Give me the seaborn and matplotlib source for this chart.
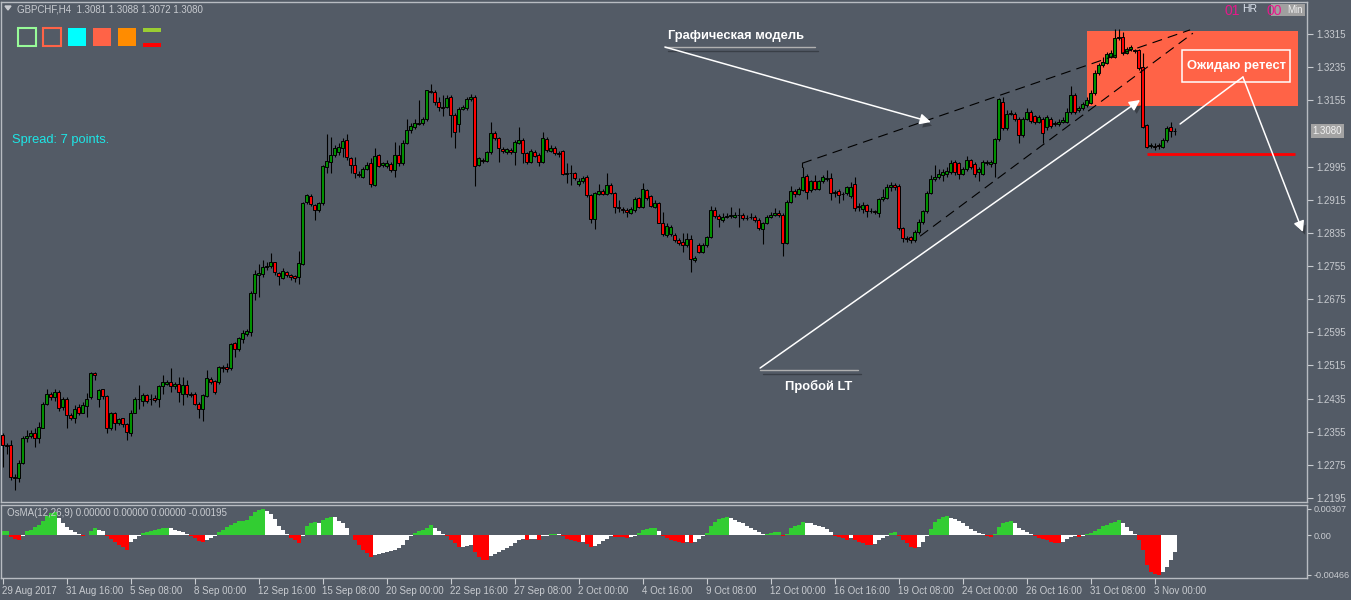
import numpy as np
import pandas as pd
import seaborn as sns
import matplotlib
matplotlib.use("Agg")
import matplotlib.pyplot as plt
from matplotlib.patches import Rectangle, FancyArrowPatch, Polygon
import matplotlib.patheffects as pe

BG = "#535b66"
FG = "#c8cbd0"
FRAME = "#b8bcc2"
BULL = "#009000"
BEAR = "#ff0000"

# GBPCHF H4 candles, prices in pips (1.2345 -> 12345)
opens = [
    12348, 12323, 12323, 12246, 12244, 12280, 12341, 12344, 12352, 12339,
    12364, 12422, 12447, 12438, 12450, 12415, 12435, 12395, 12387, 12415,
    12401, 12418, 12438, 12496, 12433, 12457, 12441, 12363, 12399, 12376,
    12387, 12373, 12353, 12401, 12433, 12430, 12443, 12435, 12437, 12433,
    12465, 12471, 12474, 12465, 12471, 12447, 12467, 12447, 12447, 12423,
    12411, 12442, 12482, 12477, 12476, 12510, 12510, 12508, 12568, 12554,
    12578, 12591, 12596, 12690, 12733, 12735, 12752, 12755, 12764, 12739,
    12727, 12740, 12733, 12731, 12729, 12761, 12909, 12924, 12902, 12890,
    12906, 12995, 13007, 13023, 13029, 13041, 13059, 13015, 12999, 12977,
    12969, 12988, 13003, 12950, 13023, 12999, 12996, 13001, 12987, 13022,
    13004, 13053, 13083, 13091, 13098, 13099, 13109, 13178, 13176, 13152,
    13138, 13140, 13164, 13120, 13097, 13135, 13136, 13157, 13164, 13000,
    13011, 13009, 13029, 13077, 13063, 13037, 13031, 13035, 13029, 13053,
    13059, 13027, 13007, 13031, 13023, 13007, 13062, 13033, 13041, 13027,
    13033, 12977, 12979, 12979, 12953, 12959, 12971, 12926, 12868, 12930,
    12936, 12930, 12951, 12932, 12898, 12892, 12889, 12884, 12890, 12918,
    12898, 12938, 12924, 12898, 12908, 12860, 12830, 12832, 12830, 12818,
    12814, 12805, 12819, 12769, 12806, 12790, 12805, 12824, 12890, 12876,
    12866, 12874, 12876, 12874, 12877, 12878, 12872, 12873, 12874, 12866,
    12844, 12860, 12874, 12878, 12884, 12878, 12811, 12910, 12937, 12929,
    12938, 12972, 12938, 12959, 12942, 12959, 12964, 12967, 12932, 12936,
    12929, 12932, 12924, 12953, 12899, 12893, 12902, 12888, 12887, 12882,
    12916, 12920, 12945, 12951, 12949, 12847, 12822, 12824, 12818, 12837,
    12862, 12887, 12932, 12966, 12970, 12974, 12978, 12982, 13007, 13003,
    12978, 12988, 13010, 13001, 12982, 12978, 13003, 13001, 13003, 13061,
    13152, 13087, 13123, 13123, 13111, 13071, 13111, 13127, 13117, 13103,
    13111, 13091, 13111, 13099, 13098, 13103, 13103, 13127, 13168, 13131,
    13136, 13144, 13149, 13172, 13220, 13240, 13246, 13260, 13259, 13305,
    13309, 13270, 13278, 13276, 13276, 13236, 13095, 13045, 13045, 13046,
    13043, 13059, 13091, 13081,
]
highs = [
    12352, 12327, 12336, 12254, 12286, 12344, 12359, 12360, 12363, 12379,
    12427, 12457, 12451, 12457, 12455, 12439, 12439, 12399, 12419, 12423,
    12427, 12449, 12500, 12500, 12459, 12459, 12443, 12403, 12403, 12389,
    12389, 12375, 12407, 12439, 12467, 12449, 12447, 12447, 12443, 12467,
    12492, 12480, 12508, 12475, 12488, 12488, 12480, 12451, 12451, 12427,
    12447, 12504, 12488, 12480, 12513, 12516, 12520, 12568, 12572, 12584,
    12600, 12602, 12695, 12745, 12761, 12769, 12765, 12787, 12765, 12741,
    12749, 12743, 12736, 12733, 12792, 12910, 12930, 12928, 12905, 12910,
    12999, 13074, 13067, 13047, 13051, 13063, 13074, 13019, 13017, 12985,
    12995, 13007, 13015, 13039, 13025, 13007, 13011, 13007, 13055, 13047,
    13059, 13109, 13101, 13109, 13156, 13115, 13181, 13194, 13180, 13164,
    13168, 13168, 13168, 13124, 13140, 13144, 13162, 13170, 13168, 13019,
    13015, 13033, 13103, 13082, 13066, 13043, 13041, 13039, 13059, 13091,
    13063, 13031, 13037, 13035, 13027, 13079, 13066, 13047, 13045, 13033,
    13035, 13003, 12999, 12983, 12967, 12972, 12975, 12930, 12934, 12953,
    12940, 12979, 12955, 12934, 12914, 12898, 12894, 12898, 12921, 12922,
    12955, 12942, 12926, 12914, 12910, 12886, 12858, 12854, 12834, 12822,
    12834, 12834, 12830, 12778, 12810, 12810, 12827, 12901, 12898, 12880,
    12882, 12884, 12898, 12886, 12894, 12884, 12878, 12884, 12878, 12870,
    12862, 12878, 12886, 12894, 12890, 12882, 12914, 12948, 12942, 12946,
    12993, 12977, 12963, 12975, 12963, 12975, 12987, 12979, 12938, 12940,
    12934, 12948, 12957, 12971, 12907, 12910, 12905, 12895, 12891, 12920,
    12941, 12953, 12957, 12955, 12953, 12849, 12827, 12828, 12841, 12868,
    12891, 12936, 12974, 12999, 12990, 12988, 12995, 13011, 13011, 13007,
    12995, 13020, 13013, 13005, 12995, 13011, 13010, 13011, 13065, 13161,
    13164, 13131, 13131, 13127, 13115, 13115, 13136, 13131, 13120, 13120,
    13115, 13120, 13115, 13106, 13109, 13115, 13136, 13189, 13172, 13141,
    13152, 13162, 13180, 13227, 13244, 13260, 13272, 13276, 13326, 13326,
    13321, 13284, 13288, 13280, 13280, 13268, 13098, 13051, 13051, 13053,
    13063, 13093, 13103, 13088,
]
lows = [
    12270, 12302, 12238, 12214, 12234, 12278, 12331, 12339, 12319, 12327,
    12363, 12419, 12431, 12430, 12405, 12407, 12363, 12383, 12375, 12395,
    12399, 12391, 12433, 12480, 12415, 12435, 12352, 12359, 12360, 12371,
    12367, 12336, 12344, 12399, 12411, 12417, 12425, 12419, 12427, 12415,
    12447, 12467, 12451, 12459, 12427, 12419, 12439, 12439, 12419, 12387,
    12381, 12439, 12471, 12447, 12471, 12500, 12500, 12504, 12536, 12550,
    12568, 12586, 12586, 12673, 12681, 12729, 12745, 12749, 12733, 12709,
    12723, 12729, 12721, 12717, 12711, 12757, 12905, 12900, 12866, 12886,
    12902, 12979, 12979, 13019, 13023, 13017, 13011, 12979, 12967, 12971,
    12967, 12987, 12946, 12948, 12993, 12993, 12991, 12983, 12969, 12996,
    12999, 13049, 13077, 13085, 13095, 13095, 13106, 13172, 13144, 13128,
    13117, 13136, 13066, 13039, 13079, 13132, 13132, 13154, 12948, 12996,
    13004, 13007, 13025, 13059, 13007, 13027, 13025, 13025, 13000, 13050,
    13003, 13001, 13003, 13017, 12996, 13003, 13031, 13029, 13023, 13019,
    12975, 12955, 12951, 12963, 12948, 12956, 12922, 12858, 12844, 12926,
    12926, 12926, 12929, 12884, 12886, 12882, 12874, 12881, 12886, 12894,
    12894, 12914, 12897, 12894, 12858, 12827, 12826, 12827, 12814, 12806,
    12790, 12802, 12741, 12765, 12786, 12786, 12802, 12822, 12872, 12850,
    12862, 12870, 12872, 12870, 12850, 12866, 12866, 12868, 12862, 12842,
    12808, 12856, 12872, 12876, 12874, 12778, 12808, 12908, 12922, 12926,
    12937, 12916, 12934, 12938, 12938, 12955, 12961, 12914, 12922, 12906,
    12914, 12926, 12920, 12887, 12887, 12882, 12874, 12882, 12880, 12874,
    12911, 12916, 12936, 12938, 12841, 12813, 12812, 12810, 12813, 12832,
    12857, 12882, 12928, 12961, 12966, 12961, 12971, 12978, 12974, 12966,
    12974, 12985, 12990, 12970, 12961, 12974, 12999, 12995, 12971, 13057,
    13083, 13083, 13119, 13106, 13051, 13067, 13107, 13101, 13098, 13099,
    13051, 13083, 13087, 13093, 13093, 13099, 13099, 13123, 13122, 13127,
    13132, 13140, 13146, 13168, 13216, 13236, 13243, 13256, 13256, 13301,
    13264, 13267, 13275, 13268, 13228, 13087, 13039, 13039, 13035, 13037,
    13039, 13055, 13067, 13072,
]
closes = [
    12323, 12321, 12246, 12244, 12280, 12341, 12344, 12353, 12339, 12367,
    12422, 12447, 12438, 12451, 12413, 12435, 12395, 12389, 12411, 12401,
    12419, 12435, 12496, 12492, 12455, 12441, 12364, 12399, 12375, 12385,
    12373, 12355, 12401, 12435, 12435, 12443, 12430, 12433, 12431, 12465,
    12474, 12474, 12465, 12471, 12450, 12467, 12446, 12443, 12423, 12411,
    12443, 12484, 12476, 12451, 12510, 12508, 12507, 12566, 12554, 12582,
    12594, 12599, 12691, 12735, 12737, 12753, 12756, 12764, 12740, 12731,
    12743, 12733, 12729, 12727, 12763, 12906, 12926, 12904, 12890, 12906,
    12996, 13009, 13023, 13039, 13043, 13057, 13017, 12999, 12979, 12974,
    12988, 13000, 12954, 13020, 12996, 13003, 13004, 12987, 13023, 13004,
    13053, 13083, 13093, 13101, 13101, 13109, 13180, 13176, 13152, 13140,
    13136, 13160, 13120, 13079, 13133, 13138, 13157, 13164, 12996, 13015,
    13008, 13029, 13075, 13063, 13039, 13033, 13038, 13031, 13055, 13059,
    13027, 13007, 13033, 13021, 13007, 13063, 13035, 13041, 13027, 13025,
    12977, 12979, 12979, 12967, 12961, 12967, 12926, 12868, 12932, 12936,
    12930, 12951, 12932, 12898, 12894, 12889, 12885, 12892, 12916, 12898,
    12940, 12918, 12900, 12908, 12860, 12832, 12852, 12850, 12818, 12811,
    12805, 12819, 12771, 12774, 12790, 12806, 12824, 12890, 12876, 12868,
    12874, 12876, 12878, 12878, 12877, 12870, 12872, 12874, 12866, 12846,
    12860, 12874, 12878, 12884, 12878, 12811, 12910, 12936, 12929, 12940,
    12971, 12934, 12959, 12942, 12959, 12969, 12967, 12932, 12934, 12926,
    12930, 12945, 12945, 12895, 12897, 12903, 12888, 12887, 12885, 12916,
    12921, 12946, 12951, 12945, 12847, 12822, 12820, 12818, 12837, 12862,
    12887, 12932, 12966, 12970, 12978, 12982, 12985, 13003, 12982, 12978,
    12988, 13010, 12995, 12978, 12988, 13005, 13005, 13007, 13061, 13157,
    13087, 13123, 13125, 13109, 13071, 13111, 13127, 13106, 13103, 13114,
    13077, 13114, 13093, 13098, 13103, 13107, 13127, 13168, 13127, 13136,
    13146, 13156, 13173, 13222, 13240, 13248, 13267, 13270, 13305, 13309,
    13268, 13280, 13283, 13275, 13232, 13091, 13043, 13046, 13043, 13045,
    13059, 13087, 13082, 13080,
]

# OsMA(12,26,9) histogram, units of 1e-5
osma = [
    48, 50, -28, -48, -60, -16, 48, 64, 96, 120,
    164, 224, 256, 272, 204, 144, 96, 64, 32, 8,
    -8, -4, 48, 84, 64, 44, -16, -48, -88, -116,
    -144, -176, -88, -48, -16, 24, 36, 48, 64, 76,
    80, 84, 80, 64, 48, 32, 12, -16, -36, -76,
    -88, -56, -32, -8, 32, 64, 96, 120, 144, 160,
    164, 176, 224, 272, 296, 307, 284, 244, 184, 112,
    56, 16, -40, -64, -96, -16, 104, 136, 152, 144,
    176, 204, 216, 208, 164, 136, 84, 4, -64, -116,
    -176, -208, -256, -236, -224, -216, -196, -188, -176, -156,
    -116, -64, -16, 24, 44, 64, 84, 120, 84, 44,
    16, -16, -56, -96, -144, -140, -128, -116, -196, -256,
    -296, -300, -248, -224, -196, -176, -156, -128, -96, -64,
    -48, -64, -48, -46, -56, -16, -8, 12, 14, 10,
    -16, -48, -64, -76, -88, -86, -104, -144, -128, -104,
    -76, -48, -16, -18, -22, -26, -30, -24, -14, 24,
    64, 76, 84, 86, 48, -16, -36, -56, -76, -88,
    -90, -84, -92, -88, -48, -16, 24, 104, 152, 184,
    204, 208, 204, 176, 152, 136, 104, 84, 64, 32,
    12, 14, 24, 30, 32, -16, 16, 84, 112, 124,
    152, 144, 136, 124, 104, 96, 72, 32, -16, -28,
    -40, -56, -40, -64, -88, -96, -112, -116, -104, -56,
    -32, -16, 24, 32, -16, -56, -96, -144, -156, -144,
    -88, -16, 72, 152, 192, 216, 220, 204, 192, 164,
    136, 112, 72, 48, 24, 12, -16, -24, 12, 96,
    136, 152, 160, 144, 84, 56, 32, 16, -16, -32,
    -48, -64, -88, -96, -98, -88, -48, -28, -16, -18,
    -14, 12, 24, 44, 72, 104, 124, 136, 152, 176,
    136, 96, 44, 16, -56, -176, -356, -436, -460, -466,
    -440, -380, -300, -195,
]

date_labels = ["29 Aug 2017", "31 Aug 16:00", "5 Sep 08:00", "8 Sep 00:00",
               "12 Sep 16:00", "15 Sep 08:00", "20 Sep 00:00", "22 Sep 16:00",
               "27 Sep 08:00", "2 Oct 00:00", "4 Oct 16:00", "9 Oct 08:00",
               "12 Oct 00:00", "16 Oct 16:00", "19 Oct 08:00", "24 Oct 00:00",
               "26 Oct 16:00", "31 Oct 08:00", "3 Nov 00:00"]
bars_per_label = 16

price_ticks = [1.2195, 1.2275, 1.2355, 1.2435, 1.2515, 1.2595, 1.2675, 1.2755,
               1.2835, 1.2915, 1.2995, 1.3155, 1.3235, 1.3315]
osma_ticks = [0.00307, 0.0, -0.00466]
osma_tick_labels = ["0.00307", "0.00", "-0.00466"]

sns.set_theme(style="dark", rc={"axes.facecolor": BG, "figure.facecolor": BG,
                                "axes.grid": False})
plt.rcParams["font.family"] = ["Liberation Sans", "DejaVu Sans"]

W, H = 1351, 600


def fx(px):
    return px / W


def fy(py):
    return 1 - py / H


df = pd.DataFrame({"o": opens, "h": highs, "l": lows, "c": closes}) / 10000.0
x = np.arange(len(df))

fig = plt.figure(figsize=(W / 100, H / 100), dpi=100, facecolor=BG)
ax = fig.add_axes([fx(1), fy(502), (1307 - 1) / W, 500 / H])
ax2 = fig.add_axes([fx(1), fy(578), (1307 - 1) / W, 73 / H])

# ---- main price panel ----
up = df["c"] >= df["o"]
ax.vlines(x, df["l"], df["h"], color="black", lw=0.8, zorder=3)
ax.bar(x, df["c"] - df["o"], bottom=df["o"], width=0.55,
       color=np.where(up, BULL, BEAR), edgecolor="black", linewidth=0.7, zorder=4)

# zone rectangle behind the candles
ax.add_patch(Rectangle((271.1, 1.3141), 52.8, 0.0181, facecolor="#ff6347",
                       edgecolor="none", zorder=1))
ax.hlines(1.3026, 286.1, 323.1, color="red", lw=2, zorder=5)

# wedge (dashed black)
ax.plot([199.9, 199.9], [1.2993, 1.3003], color="black", lw=0.8, zorder=5)
ax.plot([199.9, 296.9], [1.3003, 1.3325], color="black", lw=0.8,
        dashes=(9, 5.5), zorder=5)
ax.plot([229.4, 297.6], [1.2827, 1.3317], color="black", lw=0.8,
        dashes=(9, 5.5), zorder=5)

shadow = [pe.SimplePatchShadow(offset=(2, -3), shadow_rgbFace="black", alpha=0.3),
          pe.Normal()]
lshadow = [pe.SimpleLineShadow(offset=(2, -3), shadow_color="black", alpha=0.3),
           pe.Normal()]


def arrow(p0, p1, head=True):
    a = FancyArrowPatch(p0, p1, arrowstyle="-|>" if head else "-",
                        mutation_scale=16, color="white", lw=1.1,
                        shrinkA=0, shrinkB=0, zorder=6)
    a.set_path_effects(shadow)
    ax.add_patch(a)


# "Графическая модель"
ax.text(183.5, 1.33102, "Графическая модель", color="white", fontsize=9.3,
        fontweight="bold", ha="center", va="center", zorder=7)
ax.plot([165.6, 203.1], [1.32836, 1.32836], color="#b0b0b0", lw=1, zorder=6,
        path_effects=lshadow)
arrow((165.6, 1.32836), (232.1, 1.31026))

# "Пробой LT"
ax.text(204.0, 1.24653, "Пробой LT", color="white", fontsize=9.3,
        fontweight="bold", ha="center", va="center", zorder=7)
ax.plot([189.4, 213.9], [1.25039, 1.25039], color="#b0b0b0", lw=1, zorder=6,
        path_effects=lshadow)
arrow((189.4, 1.25087), (284.4, 1.31557))

# "Ожидаю ретест"
ax.add_patch(Rectangle((294.9, 1.31992), 27.0, 0.00772, facecolor="none",
                       edgecolor="white", lw=1.1, zorder=7))
ax.text(308.4, 1.32378, "Ожидаю ретест", color="white", fontsize=9.3,
        fontweight="bold", ha="center", va="center", zorder=7)
arrow((294.4, 1.30978), (310.1, 1.32112), head=False)
arrow((310.1, 1.32112), (325.1, 1.28370))

ax.set_xlim(-0.375, 326.125)
ax.set_ylim(1.21853, 1.33923)
ax.set_xticks([])
ax.yaxis.tick_right()
ax.set_yticks(price_ticks)
ax.set_yticklabels([f"{v:.4f}" for v in price_ticks])
ax.tick_params(axis="y", colors=FG, labelcolor=FG, length=4, width=0.8,
               pad=3, labelsize=7, direction="out", right=True, left=False)
ax.set_xlabel("")
ax.set_ylabel("")

# current price tag
ax.annotate(f"{closes[-1] / 10000:.4f}", xy=(1.0, closes[-1] / 10000),
            xycoords=("axes fraction", "data"), xytext=(4, 0),
            textcoords="offset points", va="center", ha="left", fontsize=7,
            color="#f2f2f2", annotation_clip=False,
            bbox=dict(boxstyle="square,pad=0.2", fc="#a3a3a3", ec="none"))

# ---- OsMA panel ----
od = pd.DataFrame({"bar": x, "val": np.array(osma) / 1e5})
prev = od["val"].shift(1)
rising = (od["val"] > prev) | prev.isna()
od["kind"] = np.where(od["val"] >= 0, np.where(rising, "up", "fade"),
                      np.where(rising, "fade", "down"))
sns.barplot(data=od, x="bar", y="val", hue="kind",
            palette={"up": "#32cd32", "fade": "white", "down": "red"},
            native_scale=True, width=1.0, dodge=False, saturation=1,
            linewidth=0, errorbar=None, legend=False, ax=ax2)
ax2.set_xlim(-0.375, 326.125)
ax2.set_ylim(-0.00507, 0.00354)
ax2.set_xlabel("")
ax2.set_ylabel("")
ax2.yaxis.tick_right()
ax2.set_yticks(osma_ticks)
ax2.set_yticklabels(osma_tick_labels)
ax2.set_xticks([i * bars_per_label for i in range(len(date_labels))])
ax2.set_xticklabels(date_labels, ha="left")
ax2.tick_params(axis="both", colors=FG, labelcolor=FG, width=0.8,
                labelsize=7, direction="out")
ax2.tick_params(axis="x", pad=2, length=4, bottom=True)
ax2.tick_params(axis="y", pad=2, length=3, right=True, left=False,
                labelsize=6.6)
ax2.text(6 / 1306, 1 - 8 / 73, "OsMA(12,26,9) 0.00000 0.00000 0.00000 -0.00195",
         transform=ax2.transAxes, color=FG, fontsize=7, va="center", ha="left",
         zorder=10)

for a in (ax, ax2):
    a.set_facecolor(BG)
    a.grid(False)
    for s in a.spines.values():
        s.set_visible(True)
        s.set_color(FRAME)
        s.set_linewidth(1)

# ---- header / widgets in figure pixels ----
fig.patches.append(Polygon([(fx(5), fy(6)), (fx(11), fy(6)), (fx(8), fy(10))],
                           closed=True, color=FG, transform=fig.transFigure))
fig.text(fx(17), fy(9), "GBPCHF,H4  1.3081 1.3088 1.3072 1.3080", color=FG,
         fontsize=7, va="center", ha="left")


def box(x0, y0, x1, y1, **kw):
    fig.patches.append(Rectangle((fx(x0), fy(y1)), (x1 - x0) / W, (y1 - y0) / H,
                                 transform=fig.transFigure, **kw))


box(18, 28, 36, 46, fill=False, edgecolor="#98fb98", lw=1.5)
box(43, 28, 61, 46, fill=False, edgecolor="#ff6347", lw=1.5)
box(68, 28, 86, 46, facecolor="#00ffff", edgecolor="none")
box(93, 28, 111, 46, facecolor="#ff6347", edgecolor="none")
box(118, 28, 136, 46, facecolor="#ff8c00", edgecolor="none")
box(143, 28, 161, 32, facecolor="#9acd32", edgecolor="none")
box(143, 43, 161, 47, facecolor="#ff0000", edgecolor="none")

fig.text(fx(12), fy(140), "Spread: 7 points.", color="#1ee6e6", fontsize=9.3,
         va="center", ha="left")

box(1271, 4, 1305, 16, facecolor="#a0a0a0", edgecolor="none")
fig.text(fx(1295), fy(10), "Min", color="#eeeeee", fontsize=7, va="center",
         ha="center")
fig.text(fx(1232), fy(11), "01", color="#e8188c", fontsize=10, va="center",
         ha="center")
fig.text(fx(1250), fy(9), "HR", color="#dde4ee", fontsize=7.5, va="center",
         ha="center")
fig.text(fx(1274), fy(11), "00", color="#e8188c", fontsize=10, va="center",
         ha="center")

fig.savefig("out.png", dpi=100, facecolor=BG)
